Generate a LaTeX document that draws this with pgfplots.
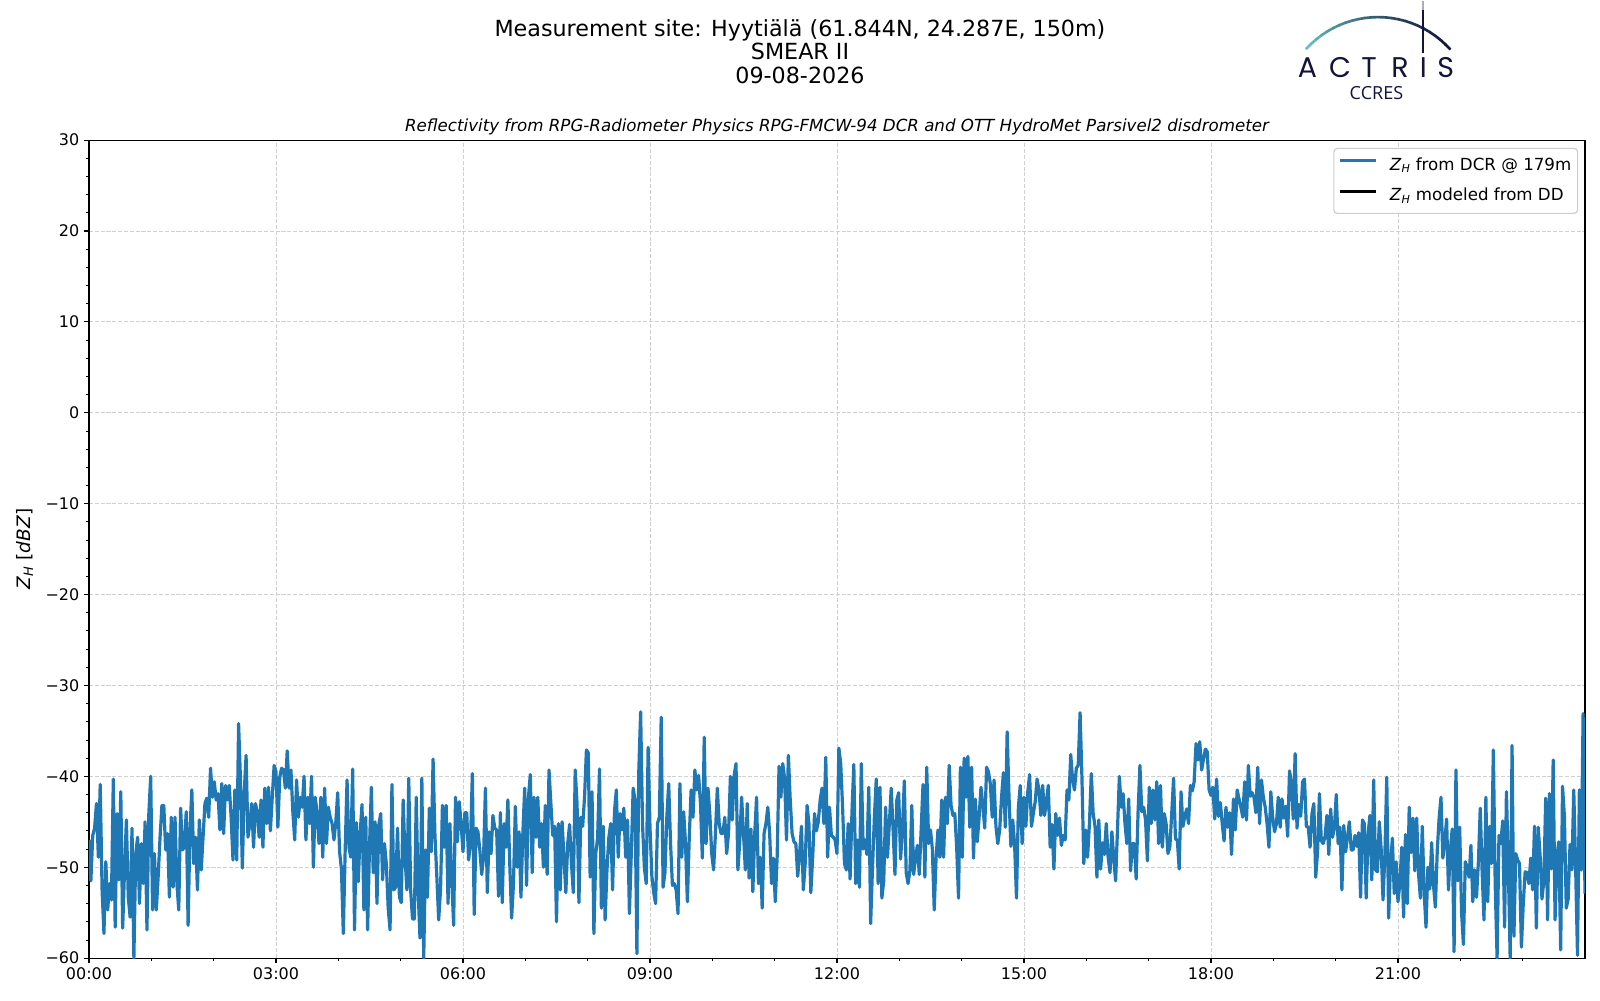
\documentclass[border=0pt]{standalone}
\usepackage{fontspec}
\setmainfont{DejaVu Sans}
\newfontfamily\logofont{Open Sans}
\newfontfamily\actrisfont{Poppins}
\usepackage{pgfplots}
\usepackage{pgfplotstable}
\pgfplotsset{compat=1.18}
\definecolor{mplblue}{HTML}{1F77B4}
\definecolor{navyc}{HTML}{12143A}
\definecolor{tealc}{HTML}{66C2C0}
\definecolor{gridc}{HTML}{D0D0D0}

\pgfplotstableread[row sep=\\, header=false]{
-47\\-51.5\\-46.5\\-45.7\\-43\\-48.9\\-40.9\\-52.5\\-57.3\\-49.4\\
-54.7\\-51.8\\-53.6\\-40.3\\-56.6\\-44.1\\-51.4\\-41.7\\-56.7\\-50.3\\
-44.8\\-53.3\\-55.5\\-45.7\\-60\\-48.5\\-46.7\\-54\\-47.4\\-51.8\\
-45\\-56.9\\-44.1\\-40\\-54.7\\-48.5\\-54.7\\-51\\-46.7\\-43.2\\
-43.2\\-48.1\\-46.3\\-53.3\\-44.5\\-52.2\\-44.5\\-51.8\\-54.7\\-43.5\\
-48.1\\-47.8\\-43.9\\-56.4\\-45.9\\-41.5\\-49.6\\-46.7\\-52.5\\-44.8\\
-50.3\\-46.7\\-43\\-42.4\\-44.5\\-39.1\\-42.3\\-40.6\\-42.6\\-41.9\\
-45.9\\-40.8\\-46.3\\-41\\-42.6\\-41\\-44.5\\-49.2\\-41.5\\-49.2\\
-34.2\\-40.4\\-50.1\\-41.9\\-37.7\\-46.7\\-45.2\\-43\\-47.8\\-43\\
-43.9\\-46.7\\-42.6\\-47.8\\-41.3\\-45.2\\-41.2\\-46\\-42.3\\-38.8\\
-39.5\\-45.6\\-40.1\\-39.1\\-39.3\\-41.3\\-37.2\\-41.3\\-39.3\\-43.9\\
-47\\-40.4\\-44.5\\-42.3\\-43.4\\-40\\-47\\-42.3\\-45.2\\-40\\
-50\\-42.3\\-44.1\\-47.4\\-42.3\\-48.9\\-41.3\\-47.4\\-43.4\\-44.5\\
-45.2\\-47\\
-45\\-41.8\\-48.3\\-50.2\\-57.3\\-48.1\\-40.4\\-47.8\\-48.9\\-39.2\\
-56.9\\-45.1\\-51.6\\-46.3\\-43.1\\-54.7\\-44.5\\-56.9\\-47.8\\-41.2\\
-50.6\\-45\\-54\\-45.3\\-44.1\\-51.4\\-47.4\\-49.6\\-54.5\\-56.9\\
-40.9\\-52.5\\-52.2\\-45.7\\-53.3\\-53.9\\-42.6\\-48.9\\-52.5\\-40.2\\
-52.5\\-55.7\\-55.7\\-42.3\\-52.5\\-57.8\\-40.2\\-60\\-48.1\\-53.3\\
-43.5\\-48.3\\-38.1\\-46.5\\-51\\-55.8\\-52.5\\-43.2\\-47.8\\-43.2\\
-54\\-45.2\\-51.4\\-56.4\\-42.3\\-47.2\\-42.8\\-45.2\\-48.3\\-44\\
-44\\-49.2\\-47.4\\-39.7\\-55.2\\-45.7\\-46.1\\-48.1\\-50.8\\-48.9\\
-41.3\\-52.8\\-46.1\\-48.5\\-44.3\\-45.7\\-45.9\\-53.2\\-44\\-53.9\\
-45.2\\-47.8\\-42.6\\-49.6\\-55.6\\-51.8\\-43.3\\-50\\-46.1\\-53.3\\
-46.3\\-41.3\\-52\\-42.3\\-39.8\\-50.6\\-42.3\\-46.7\\-42.3\\-47.8\\
-45.2\\-50\\-43.2\\-50.8\\-39.3\\-43\\-46.5\\-45.5\\-56\\-45.2\\
-52.5\\-45\\-48.9\\-52.8\\-47.4\\-45.3\\-49.6\\-52.8\\-39.3\\-43\\-53.9\\
-44.5\\-45.5\\-42.3\\-37.1\\-37.4\\-51.1\\-41.7\\-57.3\\-48.5\\-46.8\\
-39.2\\-54.5\\-45.5\\-55.8\\-50.3\\-46.7\\-45.2\\-52.5\\-43.9\\-41.5\\
-48.9\\-44.1\\-45.9\\-43.5\\-48.9\\-44.8\\-55.1\\-48.5\\-41.3\\-42.6\\
-59.5\\-39.5\\-32.9\\-45.2\\-50.1\\-51.8\\-36.8\\-45.6\\-51\\-52.8\\
-54\\-45.2\\-44.5\\-33.5\\-52.2\\-50.6\\-44.5\\-40.8\\-47.4\\-52\\
-51.8\\-52.5\\-55.1\\-40.8\\-48.9\\-43.9\\-47.4\\-53.8\\-46.7\\-41.5\\
-44.5\\-39.3\\-41.5\\-39.9\\-43\\-49\\-35.7\\-47.4\\-41.3\\-44.1\\
-48.5\\-50.3\\-46.3\\-41.3\\-45.2\\-46.3\\-46.3\\-44.5\\-48.5\\-46.3\\
-40\\-44.8\\-39.9\\-38.6\\-50.3\\-47.2\\-42.3\\-46.3\\-50.3\\-43\\
-51.2\\-45.8\\-52.7\\-46.3\\-42.3\\-51.8\\-48.9\\-54.5\\-46.3\\-45.2\\
-43.4\\-46.3\\-51.8\\-49\\-53.8\\-48.9\\-38.9\\-42.3\\-38.6\\-40.2\\
-47\\-37.7\\-42.6\\-46.3\\-47.2\\-47.4\\-51\\-48.5\\-45.5\\-52.5\\
-49.6\\-43.2\\-45.2\\-52.8\\-48.9\\-44.1\\-46\\-45\\-42.6\\-41.3\\-45.2\\
-37.9\\-48.9\\-43.4\\-46.5\\-46.7\\-47\\-48.5\\-36.9\\-38.6\\-43.4\\
-49.6\\-50.3\\-45.2\\-51.3\\-44\\-38.7\\-51.8\\-47\\-52.2\\-38.6\\
-48\\-47\\-48.6\\-41.2\\-56.2\\-50\\-44.5\\-40.3\\-51.8\\-41.2\\
-53.4\\-51.5\\-43.4\\-48.9\\-45.2\\-41.3\\-45.9\\-50.8\\-42.6\\-41.8\\
-49.1\\-45.9\\-40.5\\-50.6\\-51.8\\-50.4\\-43.2\\-50.8\\-48.9\\-47.6\\
-50.8\\-45.9\\-40.9\\-51.1\\-39\\-47.4\\-45.9\\-48\\-54.7\\-48.9\\
-45.9\\-48.9\\-42.6\\-48.9\\-42.3\\-45.2\\-38.8\\-43.2\\-44.3\\-44.1\\
-47.8\\-53.4\\-39\\-48.9\\-38\\-42.3\\-37.8\\-45.6\\-39\\-49\\
-42.5\\-47.2\\-44.5\\-41.2\\-43.2\\-45.7\\-39\\-39.5\\-40.8\\-44.5\\
-40.4\\-45.5\\-47.4\\-45.9\\-42.3\\-39.6\\-45.6\\-35.1\\-42.3\\-47.7\\
-44.8\\-47.6\\-53.4\\-43.4\\-41\\-47.4\\-42.3\\-45.5\\-41.8\\-39.8\\
-45.5\\-44.1\\-42.8\\-40.3\\-41.5\\-44.3\\-41\\-44.3\\-42.8\\-41\\
-47.8\\-45.3\\-50.2\\-44.1\\-46.5\\-44.6\\-47.6\\-46.5\\-47\\-41.5\\-42.6\\
-37.6\\-40.4\\-41.5\\-39.1\\-38.8\\-33\\-40.2\\-49.6\\-45.9\\-48.9\\
-45.2\\-39.7\\-44.1\\-45.5\\-51.1\\-44.8\\-50.2\\-47.3\\-48.6\\-45.2\\
-48.9\\-50.6\\-46.1\\-49\\-51.5\\-45.9\\-40\\-43.4\\-41.9\\-45.2\\
-47.4\\-42.5\\-50.4\\-47.4\\-47.4\\-51.3\\-44\\-38.8\\-43.9\\-43.4\\
-44.8\\-49.3\\-41.2\\-45.2\\-41.5\\-44.8\\-40.6\\-47.4\\-41\\-47.8\\
-44.1\\-45.2\\-48.5\\-47.8\\-44.1\\-40.2\\-46.9\\-47\\-50.2\\-41.7\\
-45.5\\-44.4\\-43.6\\-45.2\\-41\\-41.6\\-40.6\\-36.4\\-38.2\\-36.2\\
-39.3\\-38.1\\-37\\-37.3\\-41.5\\-42.1\\-41.2\\-44.7\\-40.3\\-44.4\\
-42.9\\-45.2\\-47.1\\-43.4\\-45.6\\-44\\-48.6\\-42.5\\-45.9\\-41.5\\
-42.5\\-43.4\\-44.5\\-40.6\\-44.8\\-38.8\\-42.2\\-41.8\\-42.3\\-44\\
-39\\-45.2\\-40.4\\-42.3\\-43.4\\-45.2\\-47.8\\-41.7\\-44.5\\-46.1\\
-45.2\\-42.3\\-45.6\\-42.5\\-44.6\\-43.3\\-46.6\\-39.4\\-40.7\\-44.7\\
-37.5\\-45.7\\-43.1\\-44.4\\-40.6\\-40.3\\-45.5\\-45.6\\-47.8\\-44.1\\-43\\
-51.1\\-48.3\\-41.9\\-47.1\\-47.4\\-46.6\\-44.3\\-48.6\\-43.6\\-46.7\\
-45.7\\-42\\-47.4\\-45.6\\-52.5\\-45.4\\-48.3\\-46.7\\-45\\-48.1\\
-48.1\\-46.5\\-47.7\\-46.2\\-53.3\\-44.8\\-45.2\\-53.4\\-46.4\\-44.3\\
-51.4\\-40.4\\-50.3\\-50.5\\-45\\-48\\-53.6\\-48.6\\-40.1\\-55.6\\
-49.7\\-46.8\\-52.9\\-49.4\\-53.8\\-51.8\\-47.8\\-55.5\\-46.4\\-54\\
-43.4\\-48.4\\-44.6\\-50.4\\-44.6\\-50.8\\-53.4\\-45.5\\-52.8\\-56.6\\
-50\\-52.4\\-47.3\\-52\\-54.4\\-48.2\\-44.6\\-42.3\\-49\\-47.3\\
-44.7\\-52.5\\-48.1\\-45.8\\-59.3\\-39.3\\-51.5\\-45.6\\-55\\-58.5\\
-49.4\\-50\\-51.1\\-47.6\\-53.8\\-50.3\\-53.3\\-49.4\\-43.5\\-50.5\\
-55.8\\-42.3\\-53.8\\-45.5\\-49.6\\-37.1\\-52\\-60\\-46.5\\-47.4\\
-44.9\\-56.6\\-41.7\\-50\\-60\\-36.6\\-57.6\\-48.5\\-49.2\\-49.6\\
-58.8\\-54\\-50.5\\-50.6\\-51.8\\-49\\-52.5\\-45.5\\-56.7\\-45.6\\
-48.7\\-53.5\\-51.5\\-42.4\\-55.8\\-41.9\\-50.2\\-38.2\\-55.8\\-48.8\\
-47.2\\-59.1\\-41.1\\-44.4\\-54.5\\-53.5\\-47.5\\-50.3\\-41.5\\-50\\
-59.7\\-41.5\\-50.3\\-33.1\\-52.9\\
}\zdata

\begin{document}
\begin{tikzpicture}
% pixel frame: (X,Y) in reference pixels
\begin{scope}[x=0.72pt,y=-0.72pt,shift={(-64.08pt,689.76pt)}]
\useasboundingbox (0,0) rectangle (1600,1000);
\end{scope}
\begin{axis}[
  at={(0pt,0pt)}, anchor=south west,
  scale only axis, width=1077.12pt, height=588.96pt,
  xmin=0, xmax=24, ymin=-60, ymax=30,
  xtick={0,3,6,9,12,15,18,21},
  xticklabels={00:00,03:00,06:00,09:00,12:00,15:00,18:00,21:00},
  minor xtick={1,2,4,5,7,8,10,11,13,14,16,17,19,20,22,23},
  ytick={-60,-50,-40,-30,-20,-10,0,10,20,30},
  yticklabels={−60,−50,−40,−30,−20,−10,0,10,20,30},
  minor y tick num=4,
  xtick pos=bottom, ytick pos=left,
  tick align=outside,
  major tick length=3.5pt, minor tick length=2pt,
  every tick/.style={black, line width=0.8pt},
  minor tick style={black, line width=0.6pt},
  axis line style={black, line width=0.8pt},
  grid=major,
  major grid style={gridc, line width=0.7pt, dash pattern=on 2.9pt off 1.3pt},
  /pgf/number format/assume math mode=true,
  tick label style={font=\fontsize{11.5}{13.5}\selectfont},
  every axis y label/.style={at={(axis description cs:-0.0431,0.5)}, rotate=90, anchor=center},
  ylabel={\textit{Z}\textsubscript{\textit{H}} [\textit{dBZ}]},
  ylabel style={font=\fontsize{13.3}{15}\selectfont},
  legend cell align=left,
  legend image code/.code={\draw[#1] (0pt,3.6pt) -- (26pt,3.6pt);},
  legend style={at={(axis cs:23.89,29.15)}, anchor=north east,
    draw=black!20, line width=0.8pt, rounded corners=2.5pt, fill=white,
    font=\fontsize{12}{14}\selectfont,
    inner xsep=3.5pt, inner ysep=5.2pt, row sep=7.4pt, column sep=7.5pt,
    nodes={inner sep=1pt, text height=9.5pt, text depth=3pt}},
]
\addplot[mplblue, line width=2.3pt, line join=round] table[x expr=\coordindex*0.03, y index=0] {\zdata};
\addlegendentry{\textit{Z}\textsubscript{\textit{H}} from DCR @ 179m}
\addlegendimage{black, line width=2.3pt}
\addlegendentry{\textit{Z}\textsubscript{\textit{H}} modeled from DD}
\end{axis}
\begin{scope}[x=0.72pt,y=-0.72pt,shift={(-64.08pt,689.76pt)}]
% titles
\node[anchor=base, font=\fontsize{16}{19}\selectfont, inner sep=0pt] at (800,36) {Measurement site: Hyytiälä (61.844N, 24.287E, 150m)};
\node[anchor=base, font=\fontsize{16}{19}\selectfont, inner sep=0pt] at (800,59.5) {SMEAR II};
\node[anchor=base, font=\fontsize{16}{19}\selectfont, inner sep=0pt] at (800,83) {09-08-2026};
\node[anchor=base, font=\fontsize{12}{14}\selectfont\itshape, inner sep=0pt] at (837,131.7) {Reflectivity from RPG-Radiometer Physics RPG-FMCW-94 DCR and OTT HydroMet Parsivel2 disdrometer};
% logo
\foreach \a in {138,134,...,46} {
  \pgfmathsetmacro\p{100*((\a-42)/96)^1.4}
  \pgfmathsetmacro\b{\a-4.3}
  \draw[line width=1.9pt, color=tealc!\p!navyc] ({1378+97*cos(\a)},{114-97*sin(\a)}) -- ({1378+97*cos(\b)},{114-97*sin(\b)});
}
\draw[navyc!35, line width=1.6pt] (1423,1) -- (1423,10);
\draw[navyc, line width=1.6pt] (1423,10) -- (1423,53);
\foreach \L/\X in {A/1307.5,C/1340,T/1369,R/1400,I/1423.3,S/1445.7}
  \node[anchor=base, inner sep=0pt, text=navyc, font=\actrisfont\fontsize{20.5}{22}\selectfont] at (\X,77.3) {\L};
\node[anchor=base, inner sep=0pt, text=navyc, font=\logofont\fontsize{13}{15}\selectfont] at (1376.5,99) {CCRES};
\end{scope}
\end{tikzpicture}
\end{document}
